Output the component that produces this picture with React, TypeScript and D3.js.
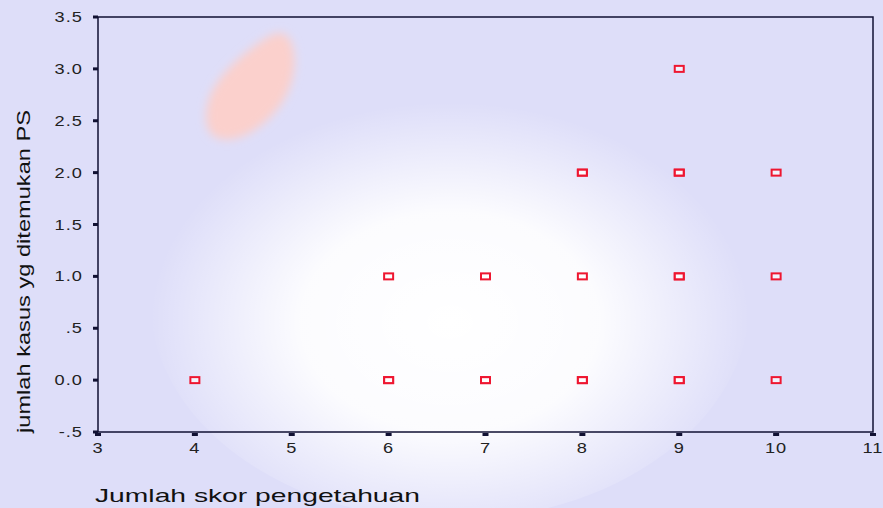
import React from "react";
import * as d3 from "d3";

// knowledge score vs. number of PS cases found (one entry per respondent)
const skor = [4, 6, 6, 6, 7, 7, 7, 8, 8, 8, 8, 8, 9, 9, 9, 9, 9, 9, 9, 10, 10, 10];
const kasus = [0, 0, 0, 1, 0, 0, 1, 0, 0, 1, 2, 2, 0, 0, 1, 1, 2, 2, 3, 0, 1, 2];

const xTicks = [3, 4, 5, 6, 7, 8, 9, 10, 11];
const yTicks = [3.5, 3.0, 2.5, 2.0, 1.5, 1.0, 0.5, 0.0, -0.5];
const yTickLabels = ["3.5", "3.0", "2.5", "2.0", "1.5", "1.0", ".5", "0.0", "-.5"];

const xLabel = "Jumlah skor pengetahuan";
const yLabel = "jumlah kasus yg ditemukan PS";

const width = 883;
const height = 508;
const margin = { top: 17, right: 10, bottom: 76, left: 98 };

const App = () => {
  const x = d3.scaleLinear().domain([3, 11]).range([margin.left, width - margin.right]);
  const y = d3.scaleLinear().domain([-0.5, 3.5]).range([height - margin.bottom, margin.top]);
  const font = "'Liberation Sans', Arial, sans-serif";

  // soft pink blob of the watermark
  const blob = d3.line().curve(d3.curveBasisClosed)([
    [205, 100], [225, 70], [255, 45], [285, 25], [298, 55], [290, 95], [265, 125], [235, 142], [205, 138],
  ]);

  return (
    <svg width={width} height={height} style={{ position: "absolute", left: 0, top: 0 }}>
      <defs>
        <radialGradient id="glow" cx="0.5" cy="0.55" r="0.5">
          <stop offset="0%" stopColor="#ffffff" />
          <stop offset="50%" stopColor="#ffffff" stopOpacity={0.9} />
          <stop offset="100%" stopColor="#ffffff" stopOpacity={0} />
        </radialGradient>
        <filter id="blur" x="-20%" y="-20%" width="140%" height="140%">
          <feGaussianBlur stdDeviation="5" />
        </filter>
      </defs>
      <rect x={0} y={0} width={width} height={height} fill="#dedef9" />
      <ellipse cx={450} cy={300} rx={300} ry={220} fill="url(#glow)" />
      <path d={blob ?? ""} fill="#fbd0cc" filter="url(#blur)" />

      {/* frame */}
      <rect
        x={x(3)}
        y={y(3.5)}
        width={x(11) - x(3)}
        height={y(-0.5) - y(3.5)}
        fill="none"
        stroke="#111133"
        strokeWidth={1.5}
      />

      {/* y axis ticks */}
      {yTicks.map((v, i) => (
        <g key={`y-${v}`}>
          <rect x={x(3) - 5} y={y(v) - 1.5} width={5} height={3} fill="#111133" />
          <g transform={`translate(${x(3) - 15}, ${y(v) + 5}) scale(1.3, 1)`}>
            <text textAnchor="end" fontFamily={font} fontSize={14} fill="#222" letterSpacing={0.8}>
              {yTickLabels[i]}
            </text>
          </g>
        </g>
      ))}

      {/* x axis ticks */}
      {xTicks.map((v) => (
        <g key={`x-${v}`}>
          <rect x={x(v) - 3} y={y(-0.5) + 1} width={6} height={3} fill="#111133" />
          <g transform={`translate(${x(v)}, ${y(-0.5) + 21}) scale(1.3, 1)`}>
            <text textAnchor="middle" fontFamily={font} fontSize={14} fill="#222" letterSpacing={0.8}>
              {v}
            </text>
          </g>
        </g>
      ))}

      {/* points */}
      {skor.map((s, i) => (
        <rect
          key={i}
          x={x(s) - 4.5}
          y={y(kasus[i]) - 3}
          width={9}
          height={6}
          fill="#ffffff"
          fillOpacity={0.6}
          stroke="#ee1630"
          strokeWidth={2}
        />
      ))}

      {/* axis titles */}
      <text
        x={95}
        y={502}
        fontFamily={font}
        fontSize={19}
        fill="#111"
        textLength={325}
        lengthAdjust="spacingAndGlyphs"
      >
        {xLabel}
      </text>
      <text
        transform={`translate(30, 433) rotate(-90)`}
        fontFamily={font}
        fontSize={19}
        fill="#111"
        textLength={323}
        lengthAdjust="spacingAndGlyphs"
      >
        {yLabel}
      </text>
    </svg>
  );
};

export default App;
